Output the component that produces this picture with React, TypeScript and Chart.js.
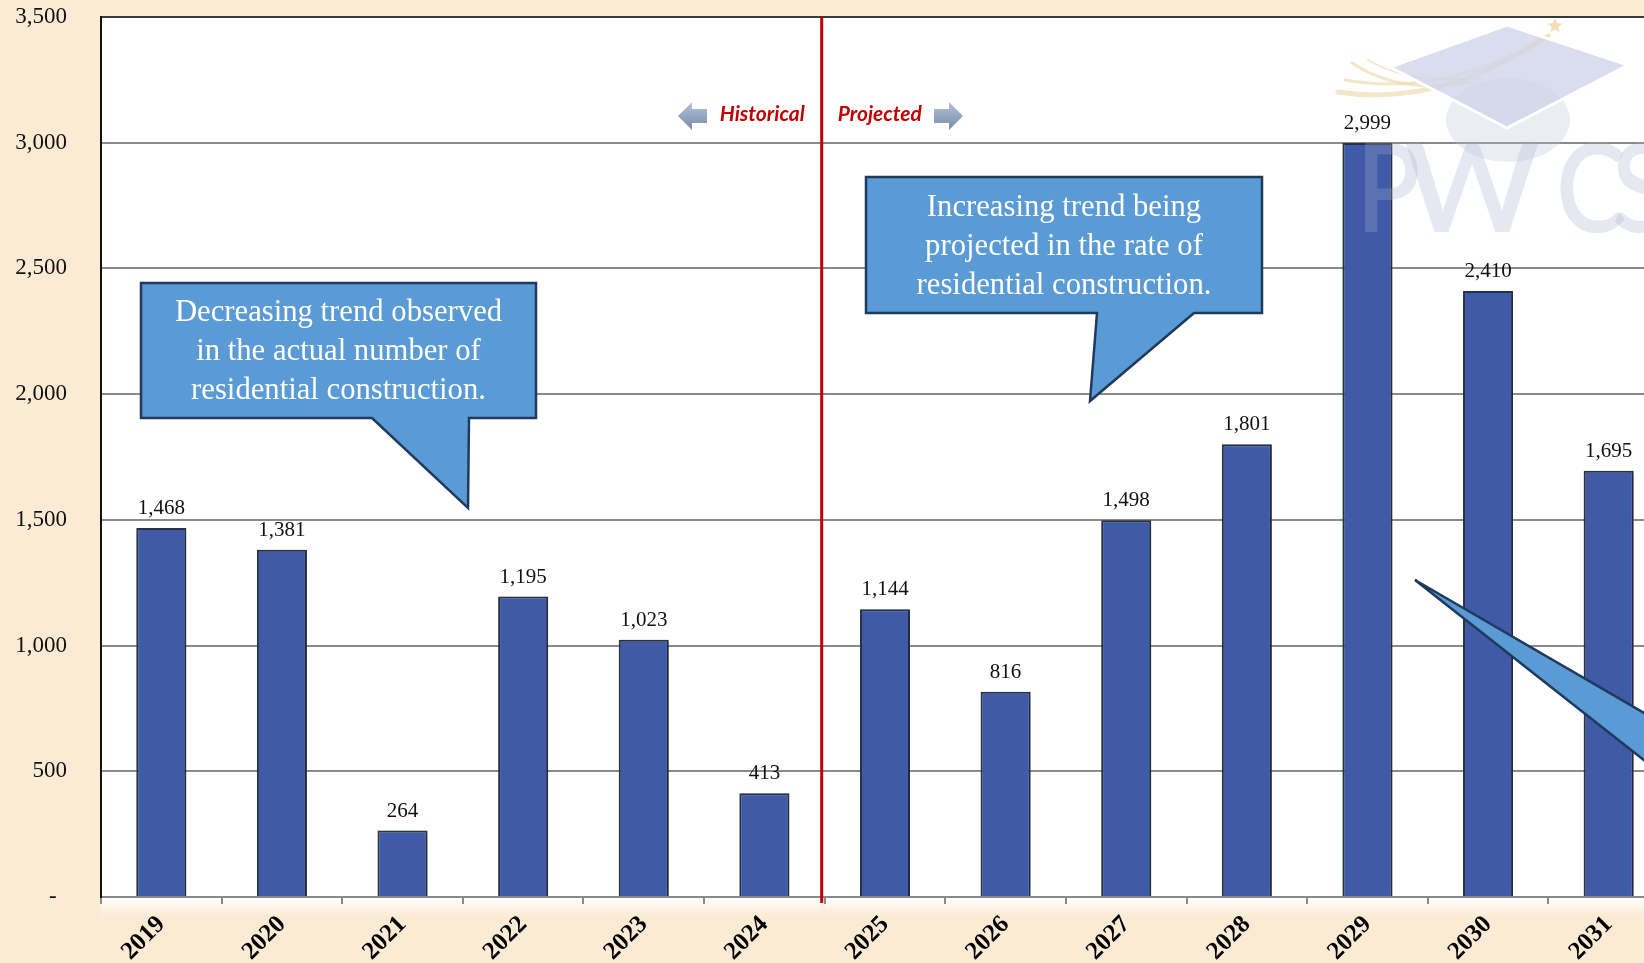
import React, { useEffect, useRef } from 'react';
import { Chart, registerables } from 'chart.js';

Chart.register(...registerables);

const years = ['2019', '2020', '2021', '2022', '2023', '2024', '2025', '2026', '2027', '2028', '2029', '2030', '2031'];
const units = [1468, 1381, 264, 1195, 1023, 413, 1144, 816, 1498, 1801, 2999, 2410, 1695];
const yMin = 0;
const yMax = 3500;
const yStep = 500;
const historicalLabel = 'Historical';
const projectedLabel = 'Projected';
const noteHistorical = ['Decreasing trend observed', 'in the actual number of', 'residential construction.'];
const noteProjected = ['Increasing trend being', 'projected in the rate of', 'residential construction.'];
const logoText = ['P', 'W', 'C', 'S'];

const SERIF = '"Liberation Serif", "Times New Roman", serif';
const PEACH = '#FCEBD4';

function fmt(v: number) {
  return v.toLocaleString('en-US');
}

function drawCallout(ctx: CanvasRenderingContext2D, box: number[], tail: number[], lines: string[], baselines: number[]) {
  const [l, t, r, b] = box;
  const [bl, br, tx, ty] = tail;
  ctx.save();
  ctx.beginPath();
  ctx.moveTo(l, t);
  ctx.lineTo(r, t);
  ctx.lineTo(r, b);
  ctx.lineTo(br, b);
  ctx.lineTo(tx, ty);
  ctx.lineTo(bl, b);
  ctx.lineTo(l, b);
  ctx.closePath();
  ctx.fillStyle = '#5B9BD5';
  ctx.fill();
  ctx.lineWidth = 2.5;
  ctx.strokeStyle = '#1F3A5C';
  ctx.lineJoin = 'miter';
  ctx.stroke();
  ctx.font = `100px ${SERIF}`;
  const w = ctx.measureText('residential construction.').width;
  const size = (100 * 295) / w;
  ctx.font = `${size}px ${SERIF}`;
  ctx.fillStyle = '#ffffff';
  ctx.textAlign = 'center';
  ctx.textBaseline = 'alphabetic';
  const cx = (l + r) / 2;
  lines.forEach((s, i) => ctx.fillText(s, cx, baselines[i]));
  ctx.restore();
}

function drawBlockArrow(ctx: CanvasRenderingContext2D, tailX: number, headBaseX: number, tipX: number, cy: number) {
  ctx.save();
  const g = ctx.createLinearGradient(0, cy - 14, 0, cy + 14);
  g.addColorStop(0, '#B9C5D8');
  g.addColorStop(0.5, '#93A6C0');
  g.addColorStop(1, '#7D90AC');
  ctx.fillStyle = g;
  ctx.beginPath();
  ctx.moveTo(tailX, cy - 7);
  ctx.lineTo(headBaseX, cy - 7);
  ctx.lineTo(headBaseX, cy - 14);
  ctx.lineTo(tipX, cy);
  ctx.lineTo(headBaseX, cy + 14);
  ctx.lineTo(headBaseX, cy + 7);
  ctx.lineTo(tailX, cy + 7);
  ctx.closePath();
  ctx.fill();
  ctx.restore();
}

function drawLogo(ctx: CanvasRenderingContext2D) {
  ctx.save();
  ctx.strokeStyle = 'rgba(240,220,178,0.7)';
  ctx.lineCap = 'round';
  const strands = [
    [1338, 92, 1440, 108, 1548, 36, 5],
    [1345, 80, 1445, 98, 1548, 36, 3],
    [1352, 63, 1400, 95, 1470, 82, 3],
    [1368, 60, 1410, 85, 1480, 78, 2],
  ];
  strands.forEach(([x0, y0, cx, cy, x1, y1, w]) => {
    ctx.lineWidth = w;
    ctx.beginPath();
    ctx.moveTo(x0, y0);
    ctx.quadraticCurveTo(cx, cy, x1, y1);
    ctx.stroke();
  });
  ctx.fillStyle = 'rgba(240,215,165,0.8)';
  ctx.beginPath();
  for (let i = 0; i < 10; i++) {
    const rr = i % 2 === 0 ? 8 : 3.5;
    const a = -Math.PI / 2 + (i * Math.PI) / 5;
    const px = 1555 + rr * Math.cos(a);
    const py = 26 + rr * Math.sin(a);
    if (i === 0) ctx.moveTo(px, py);
    else ctx.lineTo(px, py);
  }
  ctx.closePath();
  ctx.fill();
  ctx.fillStyle = 'rgba(190,196,222,0.3)';
  ctx.beginPath();
  ctx.ellipse(1508, 120, 62, 42, 0, 0, Math.PI * 2);
  ctx.fill();
  ctx.fillStyle = 'rgba(208,213,232,0.8)';
  ctx.strokeStyle = '#ffffff';
  ctx.lineWidth = 3;
  ctx.beginPath();
  ctx.moveTo(1390, 67);
  ctx.lineTo(1507, 25);
  ctx.lineTo(1628, 65);
  ctx.lineTo(1507, 128);
  ctx.closePath();
  ctx.fill();
  ctx.stroke();
  ctx.fillStyle = 'rgba(165,172,205,0.28)';
  ctx.font = `600 124px Lato, "Open Sans", sans-serif`;
  ctx.textBaseline = 'alphabetic';
  ctx.textAlign = 'left';
  const xs = [1356, 1404, 1556, 1612];
  const sx = [0.85, 1.05, 0.85, 0.85];
  logoText.forEach((c, i) => {
    ctx.save();
    ctx.translate(xs[i], 232);
    ctx.scale(sx[i], 1);
    ctx.fillText(c, 0, 0);
    ctx.restore();
  });
  ctx.restore();
}

const decorPlugin = {
  id: 'decor',
  beforeDraw(chart: any) {
    const { ctx, chartArea: a } = chart;
    ctx.save();
    ctx.fillStyle = '#ffffff';
    ctx.fillRect(a.left, a.top, a.right - a.left, a.bottom - a.top);
    const g = ctx.createLinearGradient(0, a.bottom, 0, a.bottom + 20);
    g.addColorStop(0, 'rgba(255,255,255,1)');
    g.addColorStop(1, 'rgba(255,255,255,0)');
    ctx.fillStyle = g;
    ctx.fillRect(a.left, a.bottom, a.right - a.left, 20);
    ctx.restore();
  },
  beforeDatasetsDraw(chart: any) {
    const { ctx } = chart;
    ctx.save();
    ctx.shadowColor = 'rgba(0,0,0,0.3)';
    ctx.shadowBlur = 4;
    ctx.shadowOffsetX = 1;
    ctx.shadowOffsetY = 1;
  },
  afterDatasetsDraw(chart: any) {
    const { ctx } = chart;
    ctx.restore();
    const meta = chart.getDatasetMeta(0);
    ctx.save();
    ctx.font = `21px ${SERIF}`;
    ctx.fillStyle = '#111';
    ctx.textAlign = 'center';
    ctx.textBaseline = 'alphabetic';
    meta.data.forEach((el: any, i: number) => {
      ctx.fillText(fmt(units[i]), el.x, el.y - 14);
    });
    ctx.restore();
  },
  afterDraw(chart: any) {
    const { ctx, chartArea: a, scales } = chart;
    const x = scales.x;
    const divX = (x.getPixelForValue(5) + x.getPixelForValue(6)) / 2 - 3;
    ctx.save();
    ctx.strokeStyle = '#C00000';
    ctx.lineWidth = 3;
    ctx.beginPath();
    ctx.moveTo(divX, a.top);
    ctx.lineTo(divX, a.bottom + 6);
    ctx.stroke();
    ctx.restore();

    ctx.save();
    ctx.font = `italic bold 21px Lato, "Open Sans", sans-serif`;
    ctx.fillStyle = '#C00000';
    ctx.textBaseline = 'alphabetic';
    ctx.textAlign = 'right';
    ctx.fillText(historicalLabel, divX - 17, 121);
    ctx.textAlign = 'left';
    ctx.fillText(projectedLabel, divX + 16, 121);
    ctx.restore();
    drawBlockArrow(ctx, 707, 692, 678, 116);
    drawBlockArrow(ctx, 934, 949, 963, 116);

    drawCallout(ctx, [141, 283, 536, 418], [372, 469, 468, 508], noteHistorical, [321, 360, 399]);
    drawCallout(ctx, [866, 177, 1262, 313], [1097, 1194, 1090, 401], noteProjected, [216, 255, 294]);

    ctx.save();
    ctx.beginPath();
    ctx.moveTo(1415, 580);
    ctx.lineTo(1720, 757);
    ctx.lineTo(1720, 820);
    ctx.closePath();
    ctx.fillStyle = '#5B9BD5';
    ctx.fill();
    ctx.lineWidth = 2.5;
    ctx.strokeStyle = '#1F3A5C';
    ctx.stroke();
    ctx.restore();

    drawLogo(ctx);
  },
};

export default function App() {
  const ref = useRef<HTMLCanvasElement | null>(null);
  useEffect(() => {
    if (!ref.current) return;
    const chart = new Chart(ref.current, {
      type: 'bar',
      data: {
        labels: years,
        datasets: [
          {
            data: units,
            backgroundColor: '#3F5BA8',
            borderColor: '#2B3348',
            borderWidth: 2,
            barPercentage: 0.415,
            categoryPercentage: 1,
          },
        ],
      },
      options: {
        animation: false,
        responsive: false,
        devicePixelRatio: 1,
        layout: { padding: { top: 17, left: 0, right: 1, bottom: 0 } },
        plugins: { legend: { display: false }, tooltip: { enabled: false }, title: { display: false } },
        scales: {
          x: {
            offset: true,
            grid: {
              offset: true,
              drawOnChartArea: false,
              drawTicks: true,
              tickLength: 7,
              color: '#8A8A8A',
              lineWidth: 2,
            },
            border: { display: true, color: '#8A8A8A', width: 2 },
            ticks: {
              autoSkip: false,
              maxRotation: 45,
              minRotation: 45,
              padding: 6,
              color: '#000',
              font: { family: SERIF, size: 25, weight: 'bold' },
            },
            afterFit: (s: any) => {
              s.height = 66;
              s.paddingLeft = 0;
              s.paddingRight = 0;
            },
          },
          y: {
            min: yMin,
            max: yMax,
            ticks: {
              stepSize: yStep,
              padding: 34,
              color: '#111',
              font: { family: SERIF, size: 23 },
              callback: (v: any) => (Number(v) === 0 ? '- \u2009' : fmt(Number(v))),
            },
            grid: {
              drawTicks: false,
              color: (c: any) => (c.tick && c.tick.value === yMax ? '#3A3A3A' : '#8A8A8A'),
              lineWidth: 2,
            },
            border: { display: true, color: '#111', width: 2 },
            afterFit: (s: any) => {
              s.width = 101;
              s.paddingTop = 0;
              s.paddingBottom = 0;
            },
          },
        },
      },
      plugins: [decorPlugin],
    } as any);
    return () => chart.destroy();
  }, []);

  return (
    <div
      style={{
        position: 'fixed',
        left: 0,
        top: 0,
        width: 1644,
        height: 963,
        overflow: 'hidden',
        background: PEACH,
      }}
    >
      <canvas ref={ref} width={1670} height={963} style={{ display: 'block', width: 1670, height: 963 }} />
    </div>
  );
}
